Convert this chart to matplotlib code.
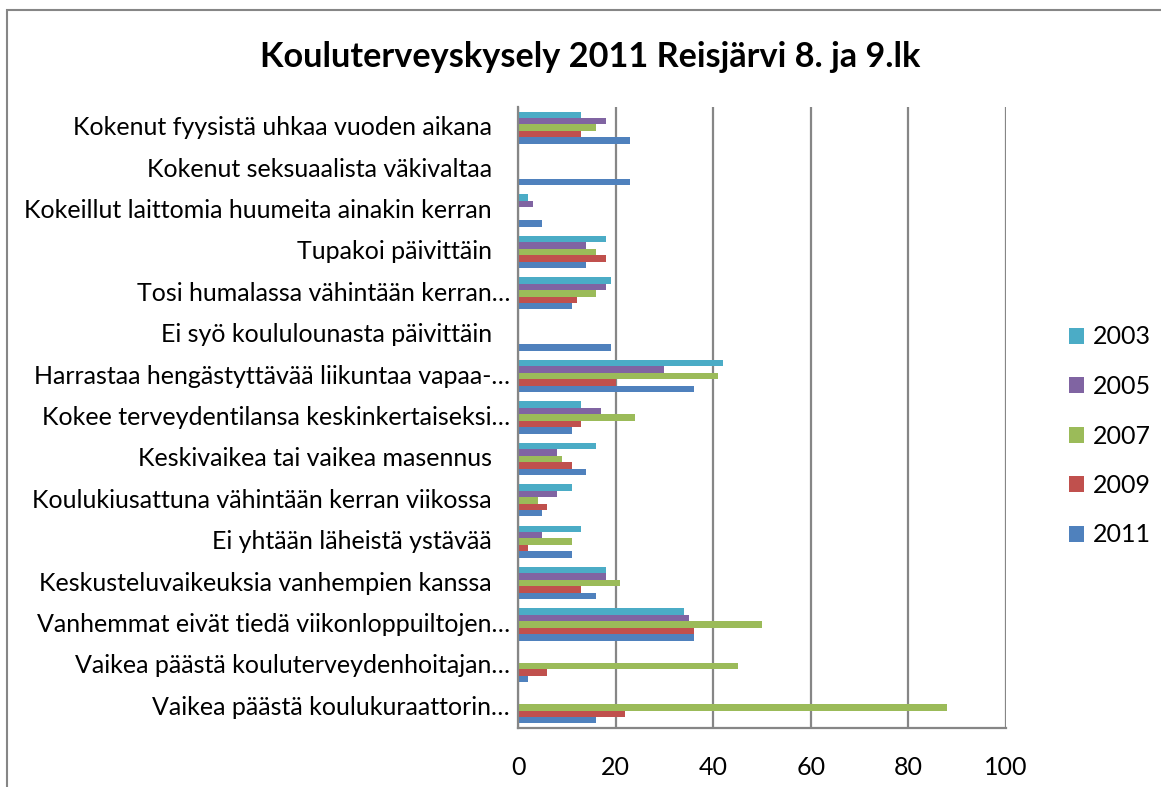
import matplotlib
matplotlib.use("Agg")
import matplotlib.pyplot as plt
import matplotlib.transforms as mtransforms
import numpy as np
from matplotlib.patches import Rectangle, Patch

plt.rcParams['font.family'] = ['Lato', 'DejaVu Sans']

categories = [
    "Kokenut fyysistä uhkaa vuoden aikana",
    "Kokenut seksuaalista väkivaltaa",
    "Kokeillut laittomia huumeita ainakin kerran",
    "Tupakoi päivittäin",
    "Tosi humalassa vähintään kerran…",
    "Ei syö koululounasta päivittäin",
    "Harrastaa hengästyttävää liikuntaa vapaa-…",
    "Kokee terveydentilansa keskinkertaiseksi…",
    "Keskivaikea tai vaikea masennus",
    "Koulukiusattuna vähintään kerran viikossa",
    "Ei yhtään läheistä ystävää",
    "Keskusteluvaikeuksia vanhempien kanssa",
    "Vanhemmat eivät tiedä viikonloppuiltojen…",
    "Vaikea päästä kouluterveydenhoitajan…",
    "Vaikea päästä koulukuraattorin…",
]
years = ["2003", "2005", "2007", "2009", "2011"]
v2003 = [13, 0, 2, 18, 19, 0, 42, 13, 16, 11, 13, 18, 34, 0, 0]
v2005 = [18, 0, 3, 14, 18, 0, 30, 17, 8, 8, 5, 18, 35, 0, 0]
v2007 = [16, 0, 0, 16, 16, 0, 41, 24, 9, 4, 11, 21, 50, 45, 88]
v2009 = [13, 0, 0, 18, 12, 0, 20, 13, 11, 6, 2, 13, 36, 6, 22]
v2011 = [23, 23, 5, 14, 11, 19, 36, 11, 14, 5, 11, 16, 36, 2, 16]
series = [v2003, v2005, v2007, v2009, v2011]
colors = ["#4BACC6", "#8064A2", "#9BBB59", "#C0504D", "#4F81BD"]

W, H = 1161, 787
fig = plt.figure(figsize=(W / 100, H / 100), dpi=100)
fig.patch.set_facecolor("white")

# outer frame
fig.add_artist(Rectangle((7 / W, -0.05), 1.2, 1 - 10 / H + 0.05, transform=fig.transFigure,
                         fill=False, edgecolor="#868686", linewidth=1.5))

ax = fig.add_axes([518 / W, 59 / H, 488 / W, 621 / H])
n = len(categories)
y = np.arange(n)
h = 0.155
for j, (vals, c) in enumerate(zip(series, colors)):
    ax.barh(y + (j - 2) * h, vals, height=h, color=c, edgecolor="none", zorder=3, label=years[j])

ax.set_xlim(0, 100)
ax.set_ylim(n - 0.5, -0.5)
ax.set_xticks([0, 20, 40, 60, 80, 100])
ax.set_yticks(y)
ax.set_yticklabels([])
ax.grid(axis="x", color="#868686", linewidth=1.6, zorder=0)
for s in ["top", "right"]:
    ax.spines[s].set_visible(False)
ax.spines["left"].set_color("#868686")
ax.spines["left"].set_linewidth(1.6)
ax.spines["left"].set_zorder(4)
ax.spines["bottom"].set_color("#868686")
ax.spines["bottom"].set_linewidth(1.6)
ax.tick_params(axis="y", length=0)
ax.tick_params(axis="x", length=0, pad=20, labelsize=18)

# category labels (Excel-style: truncated labels sit closer to the axis)
for i, lab in enumerate(categories):
    dx = 8 if lab.endswith("…") else 26
    tr = mtransforms.offset_copy(ax.get_yaxis_transform(), fig=fig, x=-dx, y=0, units="dots")
    ax.text(0, i, lab, transform=tr, ha="right", va="center", fontsize=18)

fig.text(590 / W, 1 - 57 / H, "Kouluterveyskysely 2011 Reisjärvi 8. ja 9.lk",
         ha="center", va="center", fontsize=24.7, fontweight="bold")

handles = [Patch(facecolor=c, edgecolor="none") for c in colors]
fig.legend(handles, years, loc="center left", bbox_to_anchor=(1069 / W, 1 - 436 / H),
           frameon=False, fontsize=18, handlelength=0.6, handleheight=0.6,
           handletextpad=0.35, labelspacing=1.06, borderpad=0, borderaxespad=0)

fig.savefig("out.png", dpi=100, facecolor="white")
